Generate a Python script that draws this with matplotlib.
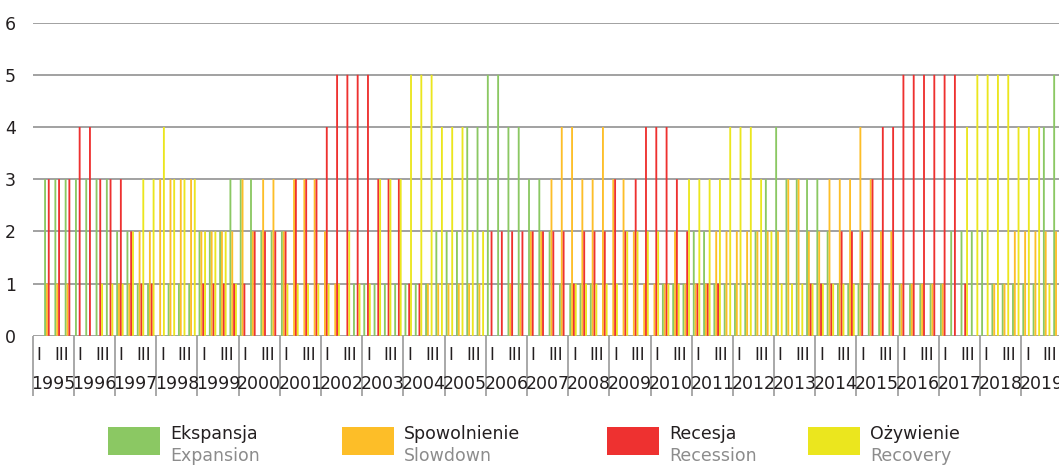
import matplotlib
matplotlib.use("Agg")
import matplotlib.pyplot as plt
import numpy as np
from matplotlib.patches import Rectangle

years = list(range(1995, 2020))
quarter_labels = ["I", "III"]
series_names = ["Ekspansja", "Spowolnienie", "Recesja", "Ożywienie"]
series_names_en = ["Expansion", "Slowdown", "Recession", "Recovery"]
colors = ["#8BC863", "#FDBE28", "#EE3130", "#EBE61E"]

ekspansja = [0,3,3,3, 3,3,3,3, 2,2,1,1, 0,1,1,1, 2,2,2,3, 3,3,2,2, 2,0,0,0,
             0,0,0,1, 1,1,1,1, 1,1,1,2, 2,2,4,4, 5,5,4,4, 3,3,2,1, 1,1,1,0,
             0,0,0,0, 0,1,1,1, 2,2,1,1, 1,1,2,3, 4,3,3,3, 3,2,1,1, 1,1,1,1,
             1,1,1,1, 1,2,2,2, 2,1,1,1, 1,1,4,5]
spowolnienie = [0,1,1,1, 0,0,0,0, 1,1,2,2, 3,3,3,3, 2,2,2,2, 3,2,3,3, 2,3,3,3,
                2,1,0,0, 0,0,0,0, 0,0,1,1, 1,1,1,1, 0,0,1,1, 2,2,3,4, 4,3,3,4,
                3,3,2,1, 1,1,2,1, 1,1,2,2, 2,2,2,2, 2,3,3,2, 2,3,3,3, 4,3,2,2,
                1,1,1,1, 1,0,0,0, 0,1,1,2, 2,2,2,2]
recesja = [0,3,3,3, 4,4,3,3, 3,2,1,1, 0,0,0,0, 1,1,1,1, 1,2,2,2, 2,3,3,3,
           4,5,5,5, 5,3,3,3, 1,1,0,0, 0,0,0,0, 2,2,2,2, 2,2,2,2, 1,2,2,2,
           3,2,3,4, 4,4,3,2, 1,1,1,0, 0,0,0,0, 0,0,0,1, 1,1,2,2, 2,3,4,4,
           5,5,5,5, 5,5,1,0, 0,0,0,0, 0,0,0,0]
ozywienie = [0,0,0,0, 0,0,1,1, 1,2,3,3, 4,3,3,3, 2,2,2,1, 0,0,0,0, 1,1,1,1,
             1,1,2,1, 1,3,3,3, 5,5,5,4, 4,4,2,2, 0,0,0,0, 0,0,0,0, 1,1,1,1,
             1,2,2,2, 2,1,1,3, 3,3,3,4, 4,4,3,2, 1,1,1,1, 1,1,1,1, 0,0,0,0,
             0,0,0,0, 0,0,4,5, 5,5,5,4, 4,4,1,0]
data = [ekspansja, spowolnienie, recesja, ozywienie]

W, H = 1059, 466
fig = plt.figure(figsize=(W / 100, H / 100), dpi=100)
ax_left, ax_right = 32.7, 1062.4
ax_top, ax_bottom = 22.6, 335.8
ax = fig.add_axes([ax_left / W, 1 - ax_bottom / H, (ax_right - ax_left) / W, (ax_bottom - ax_top) / H])

nq = len(ekspansja)
x = np.arange(nq)
step = 0.18
bw = 0.18
first = 0.2
for i, (vals, c) in enumerate(zip(data, colors)):
    ax.bar(x + first + i * step, vals, width=bw, color=c, align="center", zorder=3,
           linewidth=0, antialiased=True, snap=False)

ax.set_xlim(0, nq)
ax.set_ylim(0, 6)
ax.set_yticks(range(0, 7))
ax.yaxis.grid(True, color="#9a9a9a", linewidth=1.3, zorder=0)
ax.set_axisbelow(True)
for s in ax.spines.values():
    s.set_visible(False)
ax.tick_params(axis="y", length=0, pad=12, labelsize=12.5, labelcolor="#231f20")
for lab in ax.get_yticklabels():
    lab.set_fontfamily("DejaVu Sans")

# year separators
ax.set_xticks(np.arange(0, nq + 1, 4))
ax.set_xticklabels([])
ax.tick_params(axis="x", length=43, width=1.2, color="#9a9a9a", direction="out")

trans = matplotlib.transforms.blended_transform_factory(ax.transData, fig.transFigure)
for k, yr in enumerate(years):
    ax.text(4 * k + 0.6, 1 - 355 / H, quarter_labels[0], transform=trans, ha="center", va="center",
            fontsize=12, color="#231f20", family="DejaVu Sans")
    ax.text(4 * k + 2.8, 1 - 355 / H, quarter_labels[1], transform=trans, ha="center", va="center",
            fontsize=12, color="#231f20", family="DejaVu Sans")
    ax.text(4 * k + 2, 1 - 384 / H, str(yr), transform=trans, ha="center", va="center",
            fontsize=12.5, color="#231f20", family="DejaVu Sans")

# legend
sw_x = [108, 342, 607, 808]
for sx, c, n1, n2 in zip(sw_x, colors, series_names, series_names_en):
    fig.patches.append(Rectangle((sx / W, 1 - 455 / H), 52 / W, 28 / H, transform=fig.transFigure,
                                 facecolor=c, edgecolor="none"))
    fig.text((sx + 62) / W, 1 - 434 / H, n1, ha="left", va="center", fontsize=12.5, color="#231f20",
             family="DejaVu Sans")
    fig.text((sx + 62) / W, 1 - 456 / H, n2, ha="left", va="center", fontsize=12.5, color="#8c8c8c",
             family="DejaVu Sans")

fig.savefig("out.png", dpi=100)
